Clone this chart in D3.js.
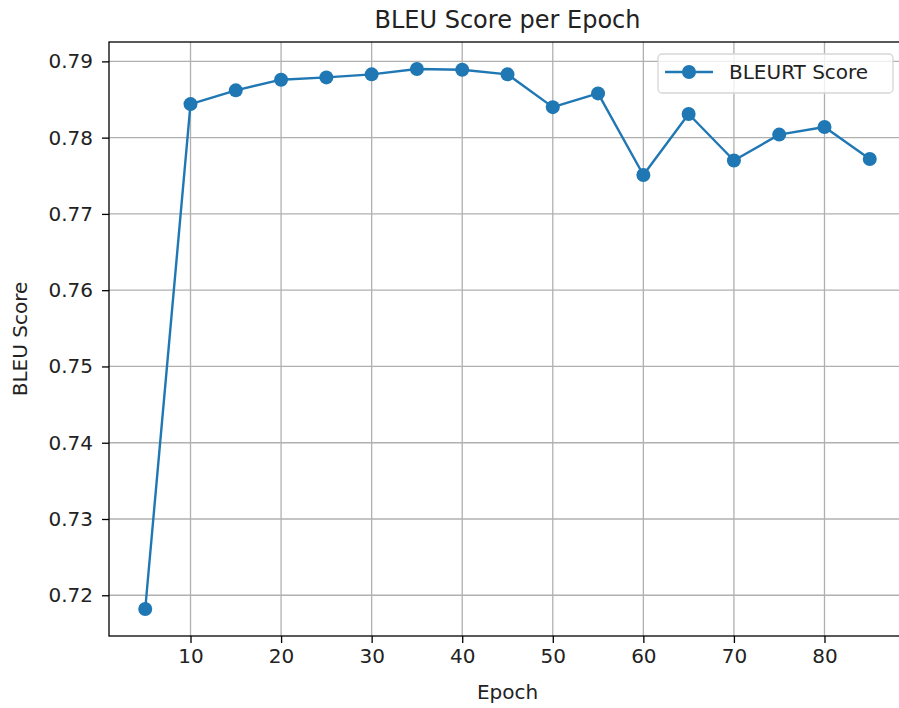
<!DOCTYPE html>
<html>
<head>
<meta charset="utf-8">
<script src="https://cdn.jsdelivr.net/npm/d3@7"></script>
<style>
  html, body { margin: 0; padding: 0; background: #fff; }
  svg { display: block; font-family: "DejaVu Sans", sans-serif; }
</style>
</head>
<body>
<svg id="chart" width="899" height="708"></svg>
<script>
// BLEURT score recorded every 5 epochs
const epochs = [5, 10, 15, 20, 25, 30, 35, 40, 45, 50, 55, 60, 65, 70, 75, 80, 85];
const scores = [0.7182, 0.7844, 0.7862, 0.7876, 0.7879, 0.7883, 0.7890, 0.7889, 0.7883,
                0.7840, 0.7858, 0.7751, 0.7831, 0.7770, 0.7804, 0.7814, 0.7772];
const xTicks = [10, 20, 30, 40, 50, 60, 70, 80];
const yTicks = [0.72, 0.73, 0.74, 0.75, 0.76, 0.77, 0.78, 0.79];
const seriesName = "BLEURT Score";
const titleText = "BLEU Score per Epoch";
const xLabel = "Epoch";
const yLabel = "BLEU Score";

const color = "#1f77b4";
const plot = { left: 109, right: 906, top: 42, bottom: 636 };

const svg = d3.select("#chart");

// 5% padding on each side of the data range
function padded(ext) {
  const m = (ext[1] - ext[0]) * 0.05;
  return [ext[0] - m, ext[1] + m];
}

const x = d3.scaleLinear().domain(padded(d3.extent(epochs))).range([plot.left, plot.right]);
const y = d3.scaleLinear().domain(padded(d3.extent(scores))).range([plot.bottom, plot.top]);

// grid
const grid = svg.append("g").attr("stroke", "#b0b0b0").attr("stroke-width", 1.3);
grid.selectAll("line.v").data(xTicks).join("line")
  .attr("x1", d => x(d)).attr("x2", d => x(d))
  .attr("y1", plot.top).attr("y2", plot.bottom);
grid.selectAll("line.h").data(yTicks).join("line")
  .attr("x1", plot.left).attr("x2", plot.right)
  .attr("y1", d => y(d)).attr("y2", d => y(d));

// axes
const xAxis = svg.append("g")
  .attr("transform", `translate(0,${plot.bottom})`)
  .call(d3.axisBottom(x).tickValues(xTicks).tickSize(7).tickPadding(6).tickFormat(d3.format("d")));
const yAxis = svg.append("g")
  .attr("transform", `translate(${plot.left},0)`)
  .call(d3.axisLeft(y).tickValues(yTicks).tickSize(7).tickPadding(9).tickFormat(d3.format(".2f")));

[xAxis, yAxis].forEach(a => {
  a.select(".domain").remove();
  a.selectAll(".tick line").attr("stroke", "#000").attr("stroke-width", 1.3);
  a.selectAll(".tick text").attr("fill", "#222").style("font-size", "20px")
    .style("font-family", "'DejaVu Sans', sans-serif");
});

// spines
svg.append("rect")
  .attr("x", plot.left).attr("y", plot.top)
  .attr("width", plot.right - plot.left).attr("height", plot.bottom - plot.top)
  .attr("fill", "none").attr("stroke", "#000").attr("stroke-width", 1.3);

// series
const line = d3.line().x((d, i) => x(epochs[i])).y(d => y(d));
svg.append("path").datum(scores)
  .attr("d", line).attr("fill", "none")
  .attr("stroke", color).attr("stroke-width", 2.4).attr("stroke-linejoin", "round");
svg.append("g").selectAll("circle").data(scores).join("circle")
  .attr("cx", (d, i) => x(epochs[i])).attr("cy", d => y(d))
  .attr("r", 7).attr("fill", color);

// title and axis labels
svg.append("text")
  .attr("x", (plot.left + plot.right) / 2).attr("y", 28)
  .attr("text-anchor", "middle").attr("fill", "#222")
  .style("font-size", "24px").text(titleText);
svg.append("text")
  .attr("x", (plot.left + plot.right) / 2).attr("y", 699)
  .attr("text-anchor", "middle").attr("fill", "#222")
  .style("font-size", "20px").text(xLabel);
svg.append("text")
  .attr("transform", `translate(27,${(plot.top + plot.bottom) / 2}) rotate(-90)`)
  .attr("text-anchor", "middle").attr("fill", "#222")
  .style("font-size", "20px").text(yLabel);

// legend
const lg = svg.append("g").attr("transform", "translate(658,54)");
lg.append("rect")
  .attr("width", 235).attr("height", 39).attr("rx", 4)
  .attr("fill", "#fff").attr("fill-opacity", 0.8)
  .attr("stroke", "#d6d6d6").attr("stroke-width", 1.3);
lg.append("line")
  .attr("x1", 7).attr("x2", 55).attr("y1", 18).attr("y2", 18)
  .attr("stroke", color).attr("stroke-width", 2.4);
lg.append("circle").attr("cx", 31).attr("cy", 18).attr("r", 7).attr("fill", color);
lg.append("text")
  .attr("x", 71).attr("y", 25).attr("fill", "#222")
  .style("font-size", "20px").text(seriesName);
</script>
</body>
</html>
